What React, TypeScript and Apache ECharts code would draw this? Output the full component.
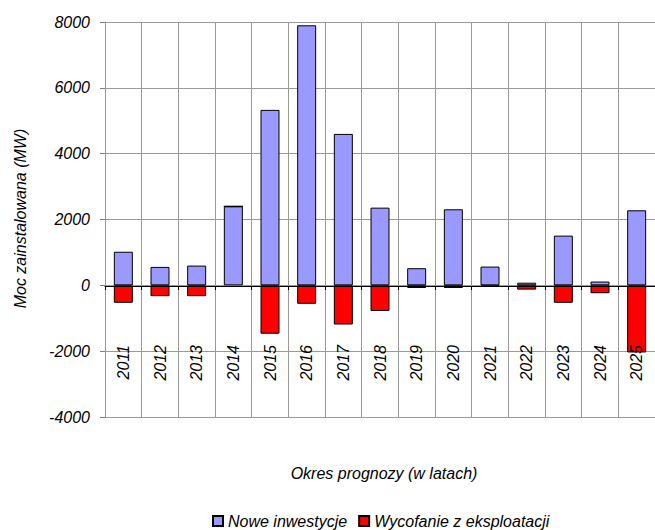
import React, { useEffect, useRef } from "react";
import * as echarts from "echarts";

const years = ["2011","2012","2013","2014","2015","2016","2017","2018","2019","2020","2021","2022","2023","2024","2025"];
const noweInwestycje = [1020, 560, 600, 2400, 5330, 7900, 4600, 2360, 520, 2310, 570, 80, 1510, 115, 2280];
const wycofanie = [-530, -330, -330, 0, -1470, -560, -1190, -780, -80, -80, -40, -130, -530, -240, -2040];
const yTicks = { min: -4000, max: 8000, interval: 2000 };
const seriesNames = ["Nowe inwestycje", "Wycofanie z eksploatacji"];
const xTitle = "Okres prognozy (w latach)";
const yTitle = "Moc zainstalowana (MW)";

const FONT = "Liberation Sans";

export default function App() {
  const ref = useRef<HTMLDivElement>(null);
  useEffect(() => {
    if (!ref.current) return;
    const chart = echarts.init(ref.current, undefined, { renderer: "svg" });
    const txt = { fontFamily: FONT, fontStyle: "italic", fontSize: 16, color: "#000" };
    chart.setOption({
      animation: false,
      backgroundColor: "#fff",
      grid: { left: 105, top: 22, right: -9, bottom: 113, containLabel: false },
      legend: {
        left: 212,
        top: 513,
        padding: 0,
        itemGap: 11,
        itemWidth: 10,
        itemHeight: 10,
        icon: "rect",
        textStyle: { ...txt },
        data: seriesNames,
      },
      xAxis: {
        type: "category",
        data: years,
        boundaryGap: true,
        position: "bottom",
        offset: -131,
        z: 5,
        axisLine: { show: true, onZero: false, lineStyle: { color: "#000", width: 1 } },
        axisTick: { show: true, interval: 0, length: 4, lineStyle: { color: "#000" } },
        axisLabel: { interval: 0, rotate: 90, margin: 59, ...txt },
        splitLine: { show: true, interval: 0, lineStyle: { color: "#999", width: 1 } },
      },
      yAxis: {
        type: "value",
        min: yTicks.min,
        max: yTicks.max,
        interval: yTicks.interval,
        axisLine: { show: true, lineStyle: { color: "#808080", width: 1 } },
        axisTick: { show: true, length: 5, lineStyle: { color: "#808080" } },
        axisLabel: { margin: 15, ...txt, formatter: (v: number) => String(v) },
        splitLine: { show: true, lineStyle: { color: "#999", width: 1 } },
      },
      graphic: [
        {
          type: "text",
          x: 20.5,
          y: 218.5,
          rotation: Math.PI / 2,
          style: {
            text: yTitle,
            font: `italic 16px "${FONT}"`,
            fill: "#000",
            textAlign: "center",
            textVerticalAlign: "middle",
          },
        },
        {
          type: "text",
          x: 384,
          y: 473,
          style: {
            text: xTitle,
            font: `italic 16px "${FONT}"`,
            fill: "#000",
            textAlign: "center",
            textVerticalAlign: "middle",
          },
        },
      ],
      series: [
        {
          name: seriesNames[0],
          type: "bar",
          stack: "total",
          barWidth: 19,
          data: noweInwestycje,
          itemStyle: { color: "#9999FF", borderColor: "#000", borderWidth: 1 },
        },
        {
          name: seriesNames[1],
          type: "bar",
          stack: "total",
          barWidth: 19,
          data: wycofanie,
          itemStyle: { color: "#FF0000", borderColor: "#000", borderWidth: 1 },
        },
      ],
    });
    return () => chart.dispose();
  }, []);
  return (
    <div
      ref={ref}
      style={{ position: "fixed", left: 0, top: 0, width: 655, height: 530 }}
    />
  );
}
